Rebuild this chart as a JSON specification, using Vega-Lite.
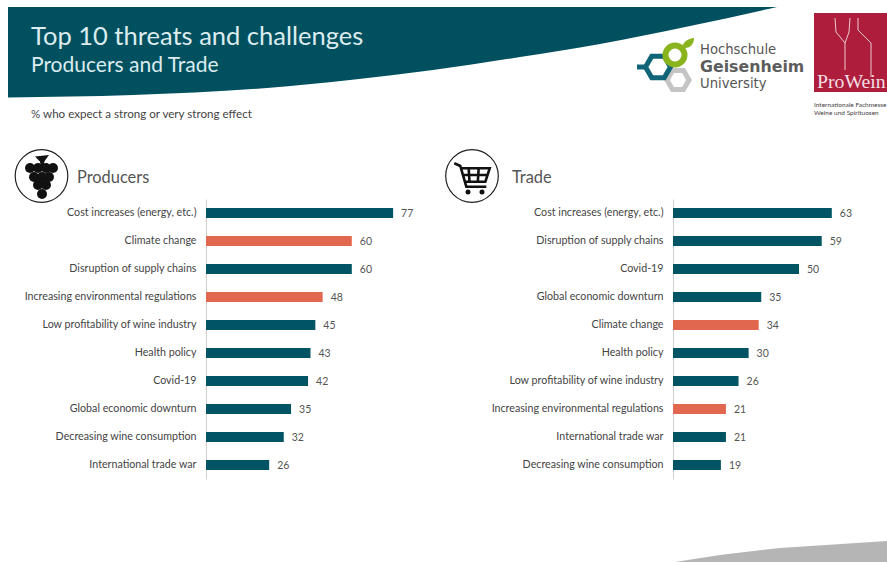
{"$schema":"https://vega.github.io/schema/vega-lite/v6.json","padding":0,"autosize":{"type":"pad"},"background":"white","spacing":0,"bounds":"flush","align":"none","config":{"view":{"stroke":null},"concat":{"spacing":0},"font":"Lato"},
"datasets":{"producers":[{"item":"Cost increases (energy, etc.)","pct":77,"kind":"other"},{"item":"Climate change","pct":60,"kind":"environment"},{"item":"Disruption of supply chains","pct":60,"kind":"other"},{"item":"Increasing environmental regulations","pct":48,"kind":"environment"},{"item":"Low profitability of wine industry","pct":45,"kind":"other"},{"item":"Health policy","pct":43,"kind":"other"},{"item":"Covid-19","pct":42,"kind":"other"},{"item":"Global economic downturn","pct":35,"kind":"other"},{"item":"Decreasing wine consumption","pct":32,"kind":"other"},{"item":"International trade war","pct":26,"kind":"other"}],
"trade":[{"item":"Cost increases (energy, etc.)","pct":63,"kind":"other"},{"item":"Disruption of supply chains","pct":59,"kind":"other"},{"item":"Covid-19","pct":50,"kind":"other"},{"item":"Global economic downturn","pct":35,"kind":"other"},{"item":"Climate change","pct":34,"kind":"environment"},{"item":"Health policy","pct":30,"kind":"other"},{"item":"Low profitability of wine industry","pct":26,"kind":"other"},{"item":"Increasing environmental regulations","pct":21,"kind":"environment"},{"item":"International trade war","pct":21,"kind":"other"},{"item":"Decreasing wine consumption","pct":19,"kind":"other"}]},
"vconcat":[
{"width":887,"height":199,
"encoding":{"x":{"field":"x","type":"quantitative","axis":null,"scale":{"domain":[0,887],"nice":false,"zero":false}},"y":{"field":"y","type":"quantitative","axis":null,"scale":{"domain":[199,0],"nice":false,"zero":false}}},
"layer":[
{"data":{"values":[{"x":8,"y":97.5},{"x":133,"y":95},{"x":267,"y":88},{"x":350,"y":80},{"x":433,"y":70},{"x":520,"y":57},{"x":600,"y":44},{"x":690,"y":26},{"x":777,"y":7}]},"mark":{"type":"area","color":"#00505f","interpolate":"monotone"},"encoding":{"y2":{"datum":7}}},
{"data":{"values":[{"x":31,"y":37,"t":"Top 10 threats and challenges"}]},"mark":{"type":"text","align":"left","baseline":"middle","fontSize":25.5,"color":"#dcecef"},"encoding":{"text":{"field":"t"}}},
{"data":{"values":[{"x":31,"y":66,"t":"Producers and Trade"}]},"mark":{"type":"text","align":"left","baseline":"middle","fontSize":21,"color":"#dcecef"},"encoding":{"text":{"field":"t"}}},
{"data":{"values":[{"x":31,"y":115,"t":"% who expect a strong or very strong effect"}]},"mark":{"type":"text","align":"left","baseline":"middle","fontSize":11.6,"color":"#444444"},"encoding":{"text":{"field":"t"}}},
{"data":{"values":[{"x":77,"y":178,"t":"Producers"},{"x":512,"y":178,"t":"Trade"}]},"mark":{"type":"text","align":"left","baseline":"middle","fontSize":16.4,"color":"#555555"},"encoding":{"text":{"field":"t"}}},
{"data":{"values":[{"x":41.5,"y":176},{"x":472,"y":176}]},"mark":{"type":"point","shape":"circle","filled":false,"size":2767,"color":"#222222","strokeWidth":1.2,"opacity":1}},
{"data":{"values":[{"x":30,"y":168},{"x":38,"y":168},{"x":46,"y":168},{"x":53,"y":168},{"x":34,"y":177},{"x":42,"y":177},{"x":49,"y":177},{"x":38,"y":185},{"x":46,"y":185},{"x":42,"y":194}]},"mark":{"type":"point","shape":"circle","filled":true,"size":100,"color":"#111111","opacity":1}},
{"data":{"values":[{"x":42,"y":160}]},"mark":{"type":"point","shape":"M-1,-0.5L1,-0.7L0.4,0.1L0.1,1L-0.1,1L-0.3,0.2Z","filled":true,"size":196,"color":"#111111","opacity":1}},
{"data":{"values":[{"x":472,"y":176}]},"mark":{"type":"point","shape":"M-1.06,-0.76L-0.7,-0.6L-0.34,0.64L0.86,0.64M-0.7,-0.46L1.06,-0.46L0.8,0.34L-0.46,0.34M-0.6,-0.06L0.95,-0.06M-0.2,-0.46L-0.15,0.34M0.4,-0.46L0.35,0.34","filled":false,"size":1115,"strokeWidth":2.6,"color":"#111111","opacity":1}},
{"data":{"values":[{"x":468,"y":192},{"x":482,"y":192}]},"mark":{"type":"point","shape":"circle","filled":true,"size":25,"color":"#111111","opacity":1}},
{"data":{"values":[{"x":637,"y":67,"s":"a"},{"x":646,"y":67,"s":"a"}]},"mark":{"type":"line","color":"#0f6478","strokeWidth":5},"encoding":{"detail":{"field":"s"}}},
{"data":{"values":[{"x":678,"y":80}]},"mark":{"type":"point","shape":"M-1,0L-0.5,-0.866L0.5,-0.866L1,0L0.5,0.866L-0.5,0.866Z","filled":false,"size":484,"strokeWidth":5,"color":"#c4c4c4","opacity":1}},
{"data":{"values":[{"x":658,"y":67}]},"mark":{"type":"point","shape":"M-1,0L-0.5,-0.866L0.5,-0.866L1,0L0.5,0.866L-0.5,0.866Z","filled":false,"size":625,"strokeWidth":5,"color":"#0f6478","opacity":1}},
{"data":{"values":[{"x":675,"y":55}]},"mark":{"type":"point","shape":"circle","filled":false,"size":361,"strokeWidth":6,"color":"#8ab41e","opacity":1}},
{"data":{"values":[{"x":688,"y":44}]},"mark":{"type":"point","shape":"M-1,0.6C-0.8,-0.4,0,-0.9,1,-1C1,0,0.3,0.9,-1,0.6Z","filled":true,"size":144,"color":"#8ab41e","opacity":1}},
{"data":{"values":[{"x":700,"y":50,"t":"Hochschule"},{"x":700,"y":84,"t":"University"}]},"mark":{"type":"text","align":"left","baseline":"middle","font":"DejaVu Sans","fontSize":13.2,"color":"#555555"},"encoding":{"text":{"field":"t"}}},
{"data":{"values":[{"x":700,"y":67,"t":"Geisenheim"}]},"mark":{"type":"text","align":"left","baseline":"middle","font":"DejaVu Sans","fontSize":15.8,"fontWeight":"bold","color":"#5c5c5c"},"encoding":{"text":{"field":"t"}}},
{"data":{"values":[{"x":814,"y":13}]},"mark":{"type":"rect","color":"#ae1e3c"},"encoding":{"x2":{"datum":887},"y2":{"datum":92}}},
{"data":{"values":[{"x":835,"y":18,"s":"l"},{"x":836,"y":32,"s":"l"},{"x":845,"y":43,"s":"l"},{"x":845,"y":70,"s":"l"},{"x":850,"y":18,"s":"m"},{"x":849,"y":32,"s":"m"},{"x":845,"y":43,"s":"m"},{"x":858,"y":18,"s":"r"},{"x":858,"y":30,"s":"r"},{"x":871,"y":43,"s":"r"},{"x":871,"y":77,"s":"r"}]},"mark":{"type":"line","color":"#ecc9d0","strokeWidth":1},"encoding":{"detail":{"field":"s"},"order":{"field":"y"}}},
{"data":{"values":[{"x":817,"y":82,"t":"ProWein"}]},"mark":{"type":"text","align":"left","baseline":"middle","font":"Liberation Serif","fontSize":19.8,"color":"#f3dfe3","clip":true},"encoding":{"text":{"field":"t"}}},
{"data":{"values":[{"x":814,"y":105,"t":"Internationale Fachmesse"},{"x":814,"y":113,"t":"Weine und Spirituosen"}]},"mark":{"type":"text","align":"left","baseline":"middle","fontSize":6.5,"color":"#444444","clip":true},"encoding":{"text":{"field":"t"}}}
]},
{"bounds":"flush","spacing":0,"hconcat":[
{"width":206,"height":280,"data":{"values":[]},"mark":"rect"},
{"width":230,"height":280,"data":{"name":"producers"},
"encoding":{"y":{"field":"item","type":"nominal","sort":null,"scale":{"paddingInner":0,"paddingOuter":0},"axis":{"title":null,"ticks":false,"domainColor":"#d0d0d0","labelPadding":10,"labelFontSize":10.7,"labelColor":"#444444","labelLimit":200}},"x":{"field":"pct","type":"quantitative","axis":null,"scale":{"domain":[0,94.65],"nice":false}}},
"layer":[{"mark":{"type":"bar","size":10},"encoding":{"color":{"field":"kind","type":"nominal","legend":null,"scale":{"domain":["other","environment"],"range":["#005463","#e2674f"]}}}},
{"mark":{"type":"text","align":"left","baseline":"middle","dx":8,"dy":1,"fontSize":10.5,"color":"#555555"},"encoding":{"text":{"field":"pct","type":"quantitative"}}}]},
{"width":237,"height":280,"data":{"values":[]},"mark":"rect"},
{"width":214,"height":280,"data":{"name":"trade"},
"encoding":{"y":{"field":"item","type":"nominal","sort":null,"scale":{"paddingInner":0,"paddingOuter":0},"axis":{"title":null,"ticks":false,"domainColor":"#d0d0d0","labelPadding":10,"labelFontSize":10.7,"labelColor":"#444444","labelLimit":200}},"x":{"field":"pct","type":"quantitative","axis":null,"scale":{"domain":[0,84.9],"nice":false}}},
"layer":[{"mark":{"type":"bar","size":10},"encoding":{"color":{"field":"kind","type":"nominal","legend":null,"scale":{"domain":["other","environment"],"range":["#005463","#e2674f"]}}}},
{"mark":{"type":"text","align":"left","baseline":"middle","dx":8,"dy":1,"fontSize":10.5,"color":"#555555"},"encoding":{"text":{"field":"pct","type":"quantitative"}}}]}
]},
{"width":887,"height":279,"data":{"values":[]},"mark":"rect"},
{"width":887,"height":84,"data":{"values":[{"x":675,"y":562},{"x":720,"y":555},{"x":780,"y":548},{"x":887,"y":541}]},
"mark":{"type":"area","color":"#b5b5b5"},
"encoding":{"x":{"field":"x","type":"quantitative","axis":null,"scale":{"domain":[0,887],"nice":false,"zero":false}},"y":{"field":"y","type":"quantitative","axis":null,"scale":{"domain":[562,478],"nice":false,"zero":false}},"y2":{"datum":562}}}
]}
